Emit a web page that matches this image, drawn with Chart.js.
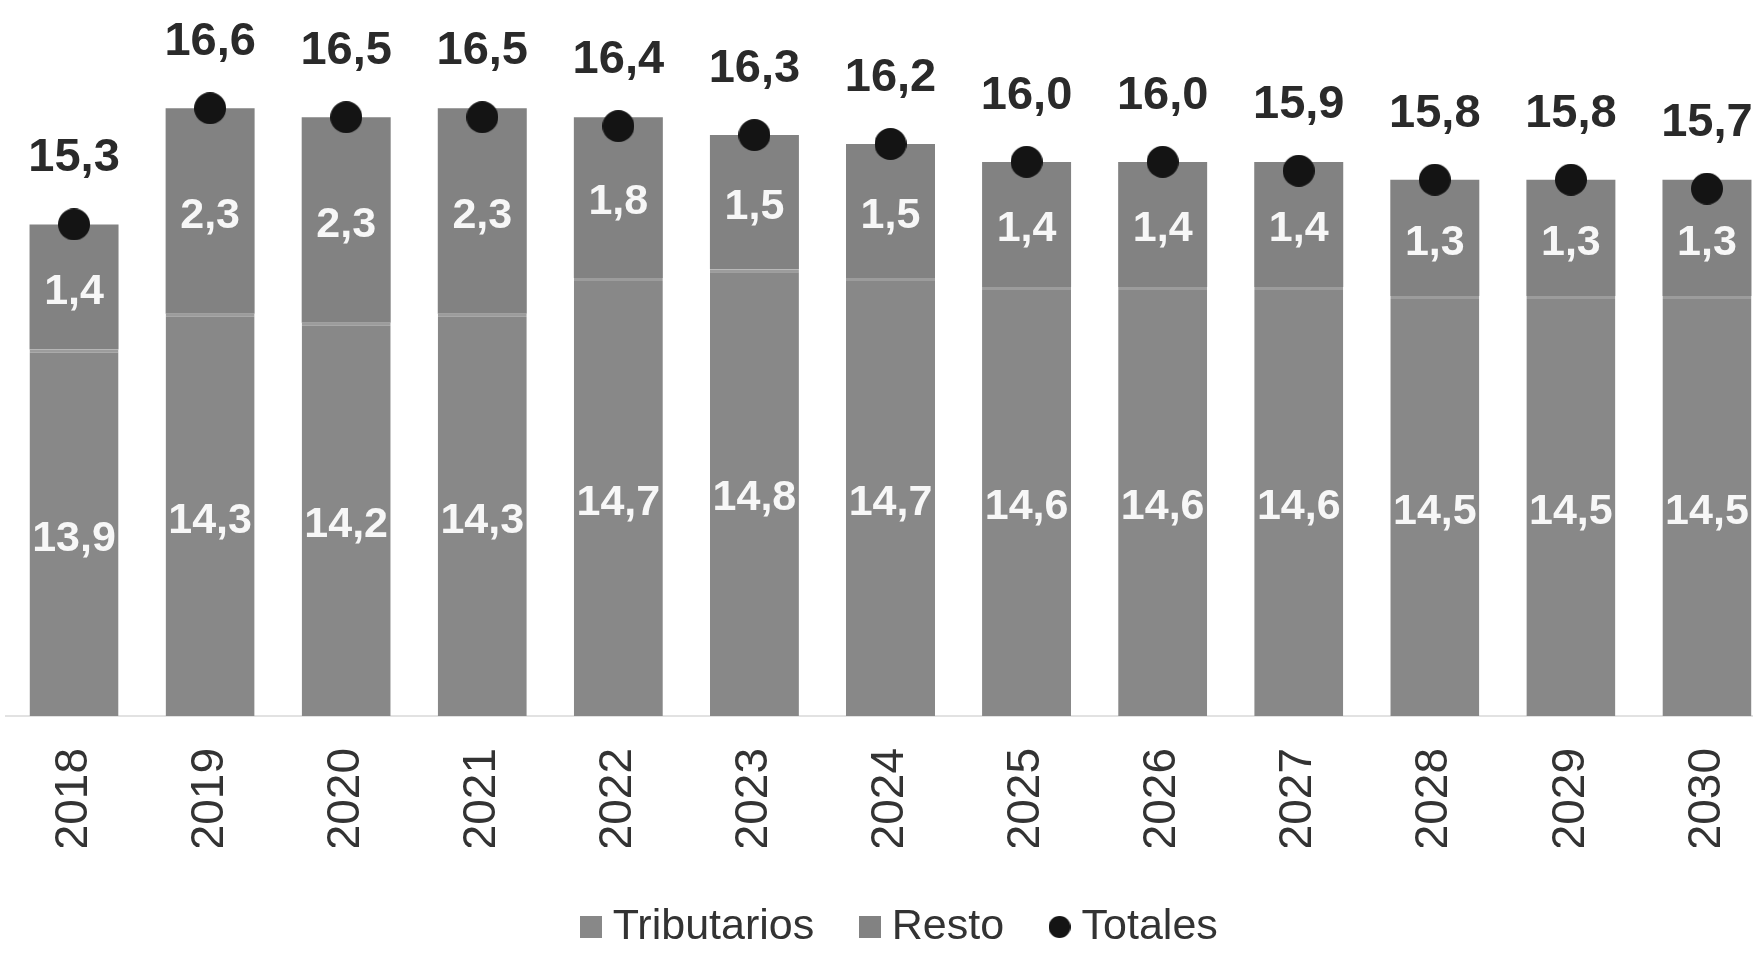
<!DOCTYPE html>
<html>
<head>
<meta charset="utf-8">
<script src="https://cdn.jsdelivr.net/npm/chart.js@4.4.1/dist/chart.umd.min.js"></script>
<style>
  html, body { margin: 0; padding: 0; background: #ffffff; overflow: hidden; }
  #wrap { position: relative; width: 1776px; height: 955px; }
  #c { display: block; width: 1776px; height: 955px; }
</style>
</head>
<body>
<div id="wrap"><canvas id="c" width="1776" height="955"></canvas></div>
<script>
// ---- data ----
const years = ['2018','2019','2020','2021','2022','2023','2024','2025','2026','2027','2028','2029','2030'];
const tributarios = [13.9, 14.3, 14.2, 14.3, 14.7, 14.8, 14.7, 14.6, 14.6, 14.6, 14.5, 14.5, 14.5];
const resto       = [1.4, 2.3, 2.3, 2.3, 1.8, 1.5, 1.5, 1.4, 1.4, 1.4, 1.3, 1.3, 1.3];
const totales     = [15.3, 16.6, 16.5, 16.5, 16.4, 16.3, 16.2, 16.0, 16.0, 15.9, 15.8, 15.8, 15.7];
const seriesNames = ['Tributarios', 'Resto', 'Totales'];

const COL_TRIB = '#888888';
const COL_RESTO = '#828282';
const COL_DOT = '#141414';
const FONT = "'Liberation Sans', Arial, sans-serif";

function makeIcon(kind, color, size) {
  const c = document.createElement('canvas');
  c.width = size; c.height = size;
  const x = c.getContext('2d');
  x.fillStyle = color;
  if (kind === 'rect') x.fillRect(0, 0, size, size);
  else { x.beginPath(); x.arc(size / 2, size / 2, size / 2, 0, Math.PI * 2); x.fill(); }
  return c;
}
const legendIcons = [makeIcon('rect', COL_TRIB, 22), makeIcon('rect', COL_RESTO, 22), makeIcon('circle', COL_DOT, 22)];
const dotIcon = makeIcon('circle', COL_DOT, 32);

const fmt = v => v.toFixed(1).replace('.', ',');

const labelPlugin = {
  id: 'valueLabels',
  afterDatasetsDraw(chart) {
    const ctx = chart.ctx;
    const area = chart.chartArea;
    ctx.save();
    ctx.textAlign = 'center';
    ctx.textBaseline = 'middle';
    ctx.font = "bold 43px " + FONT;
    ctx.fillStyle = '#f7f7f7';
    const mT = chart.getDatasetMeta(0);
    const mR = chart.getDatasetMeta(1);
    mT.data.forEach((bar, i) => {
      const bottom = Math.min(bar.base, area.bottom);
      ctx.fillText(fmt(tributarios[i]), bar.x, (bar.y + bottom) / 2 + 6);
    });
    mR.data.forEach((bar, i) => {
      ctx.fillText(fmt(resto[i]), bar.x, (bar.y + bar.base) / 2 + 5);
    });
    ctx.font = "bold 47px " + FONT;
    ctx.fillStyle = '#2a2a2a';
    const mL = chart.getDatasetMeta(2);
    mL.data.forEach((pt, i) => {
      ctx.fillText(fmt(totales[i]), pt.x, pt.y - 66);
    });
    ctx.restore();
  }
};

const LEGEND_FONT_SIZE = 43;
const legendShift = {
  id: 'legendShift',
  afterLayout(chart) {
    const lg = chart.legend;
    if (!lg) return;
    const dx = 904 - (lg.left + lg.right) / 2;
    lg.left += dx; lg.right += dx;
    const pad = lg.options.labels.padding;
    const itemH = Math.max(LEGEND_FONT_SIZE, 22);
    const newTop = 927 - pad - itemH / 2;
    const dy = newTop - lg.top;
    lg.top += dy; lg.bottom += dy;
  }
};

new Chart(document.getElementById('c'), {
  data: {
    labels: years,
    datasets: [
      { type: 'bar', label: seriesNames[0], data: tributarios, backgroundColor: COL_TRIB,
        borderColor: '#9c9c9c', borderWidth: { top: 3, left: 0, right: 0, bottom: 0 }, borderSkipped: false,
        stack: 's', order: 1, barPercentage: 0.654, categoryPercentage: 1.0 },
      { type: 'bar', label: seriesNames[1], data: resto, backgroundColor: COL_RESTO, borderWidth: 0,
        stack: 's', order: 1, barPercentage: 0.654, categoryPercentage: 1.0 },
      { type: 'line', label: seriesNames[2], data: totales, showLine: false, order: 0,
        pointRadius: 1, pointHoverRadius: 1, pointStyle: dotIcon, pointBackgroundColor: COL_DOT,
        pointBorderColor: COL_DOT, pointBorderWidth: 0, borderWidth: 0,
        borderColor: COL_DOT, backgroundColor: COL_DOT, clip: false }
    ]
  },
  options: {
    responsive: false,
    maintainAspectRatio: false,
    animation: false,
    devicePixelRatio: 1,
    layout: { padding: { left: 6, right: 0, top: 0, bottom: 0 } },
    scales: {
      x: {
        stacked: true,
        grid: { display: false, drawTicks: false },
        border: { display: true, color: '#e2e2e2', width: 2 },
        ticks: {
          color: '#333333', font: { family: FONT, size: 46 },
          minRotation: 90, maxRotation: 90, padding: 32, autoSkip: false
        },
        afterFit(s) {
          const lh = s.chart.legend ? s.chart.legend.height : 0;
          s.height = s.chart.height - 716 - lh;
          s.paddingLeft = 0;
          s.paddingRight = 0;
        }
      },
      y: { stacked: true, display: false, min: 9.8, max: 17.8 }
    },
    plugins: {
      legend: {
        position: 'bottom',
        labels: {
          usePointStyle: true, boxWidth: 1, boxHeight: 22, padding: 55,
          color: '#333333', font: { family: FONT, size: LEGEND_FONT_SIZE },
          sort: (a, b) => a.datasetIndex - b.datasetIndex,
          generateLabels(chart) {
            const items = Chart.defaults.plugins.legend.labels.generateLabels(chart);
            items.forEach(it => { it.pointStyle = legendIcons[it.datasetIndex]; });
            return items;
          }
        }
      },
      tooltip: { enabled: false }
    }
  },
  plugins: [labelPlugin, legendShift]
});
</script>
</body>
</html>
